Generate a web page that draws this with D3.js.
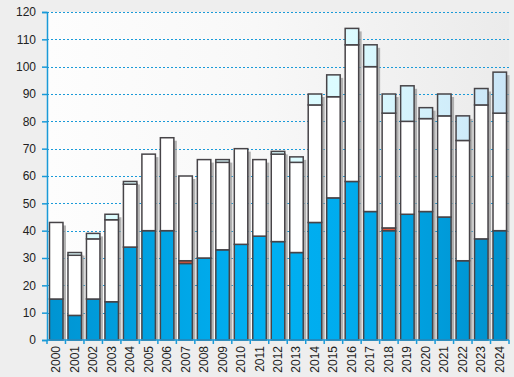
<!DOCTYPE html>
<html>
<head>
<meta charset="utf-8">
<script src="https://cdn.jsdelivr.net/npm/d3@7"></script>
<style>
    body { margin: 0; background: #eeeeee; }
    svg { display: block; font-family: "Liberation Sans", Arial, sans-serif; }
</style>
</head>
<body>
<svg id="chart" width="514" height="377"></svg>
<script>
// years on the x axis
let years = ["2000", "2001", "2002", "2003", "2004", "2005", "2006", "2007", "2008", "2009",
    "2010", "2011", "2012", "2013", "2014", "2015", "2016", "2017", "2018", "2019",
    "2020", "2021", "2022", "2023", "2024"];

// stacked segments, bottom to top
let blueValues = [15, 9, 15, 14, 34, 40, 40, 28, 30, 33, 35, 38, 36, 32, 43, 52, 58, 47, 40, 46, 47, 45, 29, 37, 40];
let redValues = [0, 0, 0, 0, 0, 0, 0, 1, 0, 0, 0, 0, 0, 0, 0, 0, 0, 0, 1, 0, 0, 0, 0, 0, 0];
let whiteValues = [28, 22, 22, 30, 23, 28, 34, 31, 36, 32, 35, 28, 32, 33, 43, 37, 50, 53, 42, 34, 34, 37, 44, 49, 43];
let cyanValues = [0, 1, 2, 2, 1, 0, 0, 0, 0, 1, 0, 0, 1, 2, 4, 8, 6, 8, 7, 13, 4, 8, 9, 6, 15];

let yTicks = [0, 10, 20, 30, 40, 50, 60, 70, 80, 90, 100, 110, 120];

let keys = ["blue", "red", "white", "cyan"];
let rows = years.map(function (yr, i) {
    return {year: yr, blue: blueValues[i], red: redValues[i], white: whiteValues[i], cyan: cyanValues[i]};
});

let plotLeft = 47, plotRight = 509, plotTop = 12, plotBottom = 340;

let svg = d3.select("#chart");
let defs = svg.append("defs");

// plot background: white on the left fading to grey on the right
let bg = defs.append("linearGradient").attr("id", "bgGrad")
    .attr("x1", "0").attr("y1", "0").attr("x2", "1").attr("y2", "0");
bg.append("stop").attr("offset", "0").attr("stop-color", "#fdfdfd");
bg.append("stop").attr("offset", "0.45").attr("stop-color", "#f8f8f8");
bg.append("stop").attr("offset", "1").attr("stop-color", "#ebebeb");

// blue segment: brighter in the middle of the chart
let blue = defs.append("linearGradient").attr("id", "blueGrad")
    .attr("gradientUnits", "userSpaceOnUse")
    .attr("x1", plotLeft).attr("y1", 0).attr("x2", plotRight).attr("y2", 0);
blue.append("stop").attr("offset", "0").attr("stop-color", "#0094d2");
blue.append("stop").attr("offset", "0.45").attr("stop-color", "#00b0f2");
blue.append("stop").attr("offset", "0.65").attr("stop-color", "#00acee");
blue.append("stop").attr("offset", "1").attr("stop-color", "#0090cc");

let cyan = defs.append("linearGradient").attr("id", "cyanGrad")
    .attr("gradientUnits", "userSpaceOnUse")
    .attr("x1", plotLeft).attr("y1", 0).attr("x2", plotRight).attr("y2", 0);
cyan.append("stop").attr("offset", "0").attr("stop-color", "#e0feff");
cyan.append("stop").attr("offset", "0.65").attr("stop-color", "#dcfbff");
cyan.append("stop").attr("offset", "1").attr("stop-color", "#cae5f7");

let fills = {blue: "url(#blueGrad)", red: "#f0583c", white: "#ffffff", cyan: "url(#cyanGrad)"};

let x = d3.scaleBand().domain(years).range([plotLeft, plotRight]).paddingInner(0.27).paddingOuter(0.135);
let y = d3.scaleLinear().domain([0, 120]).range([plotBottom, plotTop]);

svg.append("rect")
    .attr("x", plotLeft).attr("y", plotTop)
    .attr("width", plotRight - plotLeft).attr("height", plotBottom - plotTop)
    .attr("fill", "url(#bgGrad)");

// dotted grid lines
svg.selectAll(".grid")
    .data(yTicks.slice(1))
    .enter().append("line")
    .attr("class", "grid")
    .attr("x1", plotLeft).attr("x2", plotRight)
    .attr("y1", function (d) { return Math.round(y(d)) + 0.5; })
    .attr("y2", function (d) { return Math.round(y(d)) + 0.5; })
    .attr("stroke", "#1a9ad8")
    .attr("stroke-width", 1)
    .attr("stroke-dasharray", "2,2");

let series = d3.stack().keys(keys)(rows);

function total(d) {
    return d.blue + d.red + d.white + d.cyan;
}

// drop shadows behind each bar
svg.selectAll(".shadow")
    .data(rows)
    .enter().append("rect")
    .attr("class", "shadow")
    .attr("x", function (d) { return x(d.year) + 3; })
    .attr("y", function (d) { return y(total(d)) + 3; })
    .attr("width", x.bandwidth())
    .attr("height", function (d) { return plotBottom - 3 - y(total(d)); })
    .attr("fill", "#9a9a9a")
    .attr("opacity", 0.75);

series.forEach(function (s) {
    svg.selectAll(".seg-" + s.key)
        .data(s.filter(function (d) { return d[1] > d[0]; }))
        .enter().append("rect")
        .attr("class", "seg-" + s.key)
        .attr("x", function (d) { return x(d.data.year); })
        .attr("y", function (d) { return y(d[1]); })
        .attr("width", x.bandwidth())
        .attr("height", function (d) { return y(d[0]) - y(d[1]); })
        .attr("fill", fills[s.key])
        .attr("stroke", "#474448")
        .attr("stroke-width", 1.5);
});

// y axis
let yAxis = svg.append("g")
    .attr("transform", "translate(" + plotLeft + ",0)")
    .call(d3.axisLeft(y).tickValues(yTicks).tickSize(5).tickPadding(6));
yAxis.select(".domain").attr("stroke", "#1a9ad8").attr("stroke-width", 1.5);
yAxis.selectAll(".tick line").attr("stroke", "#1a9ad8").attr("stroke-width", 1.5);
yAxis.selectAll("text").attr("font-size", 12).attr("fill", "#222").attr("font-family", "Liberation Sans, Arial, sans-serif");

// x axis line and ticks on band edges
svg.append("line")
    .attr("x1", plotLeft).attr("x2", plotRight)
    .attr("y1", plotBottom).attr("y2", plotBottom)
    .attr("stroke", "#1a9ad8").attr("stroke-width", 1.5);

let edges = years.map(function (yr) { return x(yr) - x.step() * x.paddingInner() / 2; });
edges.push(plotRight);
svg.selectAll(".xtick")
    .data(edges)
    .enter().append("line")
    .attr("class", "xtick")
    .attr("x1", function (d) { return d; }).attr("x2", function (d) { return d; })
    .attr("y1", plotBottom).attr("y2", plotBottom + 4)
    .attr("stroke", "#1a9ad8").attr("stroke-width", 1.5);

svg.selectAll(".xlabel")
    .data(years)
    .enter().append("text")
    .attr("class", "xlabel")
    .attr("transform", function (d) {
        return "translate(" + (x(d) + x.bandwidth() / 2 + 4) + "," + (plotBottom + 6) + ") rotate(-90)";
    })
    .attr("text-anchor", "end")
    .attr("font-size", 12)
    .attr("fill", "#222")
    .text(function (d) { return d; });
</script>
</body>
</html>
